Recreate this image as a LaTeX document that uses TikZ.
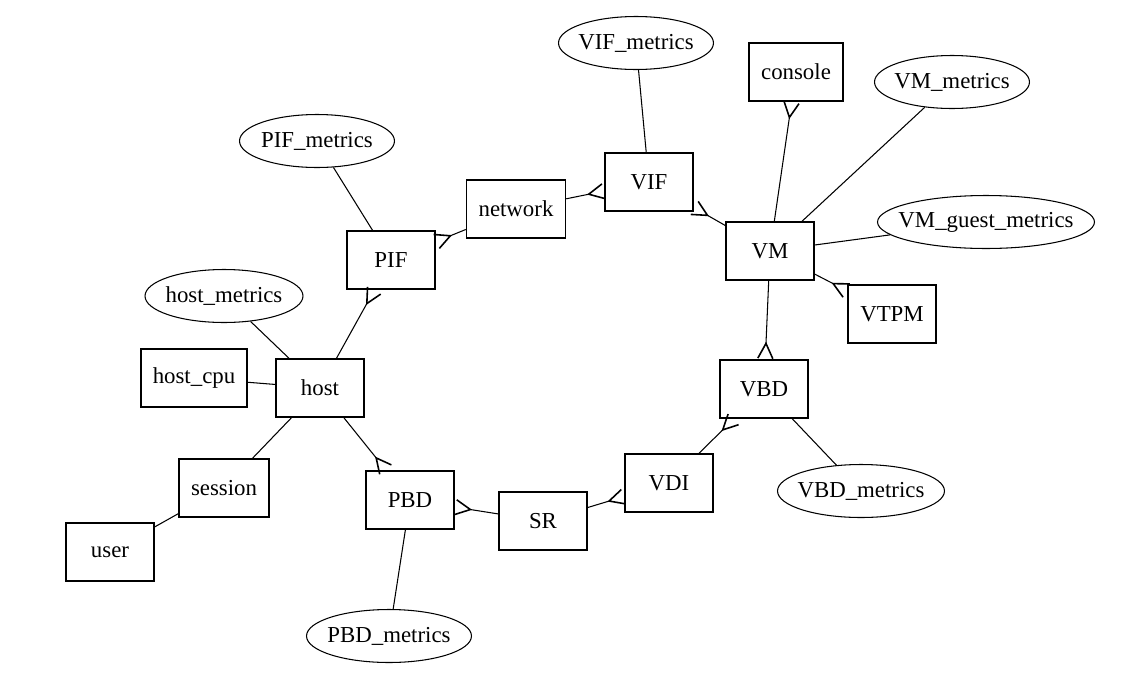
\documentclass[tikz,border=0pt]{standalone}
\usepackage{fontspec}
\setmainfont{Liberation Serif}
\usepackage{tikz}
\usetikzlibrary{arrows, shapes}
\usetikzlibrary{arrows.meta}

\tikzset{
  box/.style={rectangle,draw=black,line width=0.9pt,inner xsep=0.24cm,minimum width=1.76cm,minimum height=1.16cm},
  metric/.style={ellipse,draw=black,line width=0.6pt,inner xsep=-10pt,minimum width=3.1cm,minimum height=1.06cm}
}

\begin{document}
\begin{tikzpicture}[x=0.02cm,y=-0.02cm,font=\fontsize{13}{15}\selectfont]
\useasboundingbox (0,0) rectangle (1123,683);
%\begin{scope}[every node/.style={box}]
\begin{scope}
    \node[box] (vif) at (649,182) {VIF};
    \node[box] (network) at (516,209) {network};
    \node[box] (console) at (796,72) {console};
    \node[box] (vm) at (770,251) {VM};
    \node[box] (vtpm) at (892,314) {VTPM};
    \node[box] (pif) at (391,260) {PIF};
    \node[box] (vbd) at (764,389) {VBD};
    \node[box] (host) at (320,388) {host};
    \node[box] (hostcpu) at (194,378) {host\_cpu};
    \node[box] (session) at (224,488) {session};
    \node[box] (user) at (110,552) {user};
    \node[box] (pbd) at (410,500) {PBD};
    \node[box] (sr) at (543,521) {SR};
    \node[box] (vdi) at (669,483) {VDI};

    \node[metric] (vifm) at (636,43) {VIF\_metrics};
    \node[metric] (vmm) at (952,82) {VM\_metrics};
    \node[metric,minimum width=4.34cm] (vmgm) at (986,222) {VM\_guest\_metrics};
    \node[metric] (pifm) at (317,141) {PIF\_metrics};
    \node[metric,minimum width=3.16cm] (hostm) at (224,296) {host\_metrics};
    \node[metric,minimum width=3.34cm] (vbdm) at (861,491) {VBD\_metrics};
    \node[metric,minimum width=3.3cm] (pbdm) at (389,636) {PBD\_metrics};
\end{scope}

\begin{scope}[>={Straight Barb[reversed,length=3mm,width=3mm,line width=0.9pt]},every edge/.style={draw=black,line width=0.6pt}]
    \path [-] (vifm) edge (vif);
    \path [-] (vmm) edge (vm);
    \path [-] (vmgm) edge (vm);
    \path [-] (vbdm) edge (vbd);
    \path [-] (pbdm) edge (pbd);
    \path [-] (pifm) edge (pif);
    \path [-] (hostm) edge (host);
    \path [-] (hostcpu) edge (host);
    \path [-] (session) edge (host);
    \path [-] (user) edge (session);

    \path [->] (network) edge (vif);
    \path [->] (vm) edge (vif);
    \path [->] (network) edge (pif);
    \path [->] (host) edge (pif);
    \path [->] (host) edge (pbd);
    \path [->] (sr) edge (pbd);
    \path [->] (sr) edge (vdi);
    \path [->] (vdi) edge (vbd);
    \path [->] (vm) edge (vbd);
    \path [->] (vm) edge (console);
    \path [->] (vm) edge (vtpm);
\end{scope}
\end{tikzpicture}
\end{document}
